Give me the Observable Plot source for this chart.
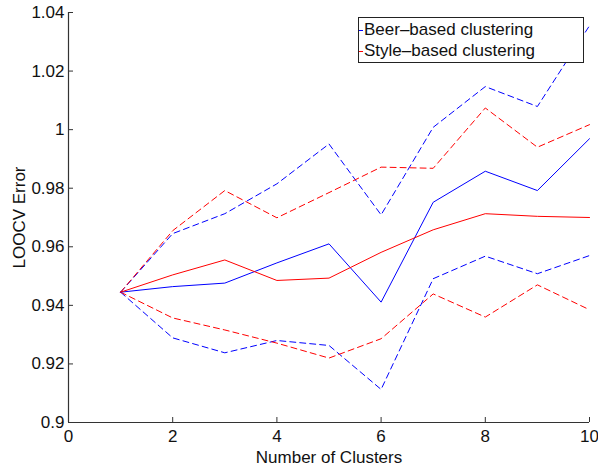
<!DOCTYPE html>
<html>
<head>
<meta charset="utf-8">
<script src="https://cdn.jsdelivr.net/npm/d3@7"></script>
<script src="https://cdn.jsdelivr.net/npm/@observablehq/plot@0.6"></script>
<style>
  html, body { margin: 0; padding: 0; background: #fff; }
  #wrap { position: relative; width: 598px; height: 466px; font-family: "Liberation Sans", Arial, sans-serif; }
  #legend { position: absolute; left: 358px; top: 17px; width: 224px; height: 44px; border: 1px solid #222; background: #fff; font-size: 17px; color: #111; }
  #legend .row { position: absolute; left: 0; white-space: nowrap; line-height: 20px; }
  #legend .sw { display: inline-block; width: 4px; height: 1px; vertical-align: middle; margin-right: 1px; }
</style>
</head>
<body>
<div id="wrap"></div>
<script>
const clusters = [1, 2, 3, 4, 5, 6, 7, 8, 9, 10];
const beerMean  = [0.9445, 0.9464, 0.9476, 0.9545, 0.9610, 0.9411, 0.9752, 0.9858, 0.9792, 0.9969];
const beerUpper = [0.9445, 0.9645, 0.9713, 0.9815, 0.9951, 0.9709, 1.0008, 1.0147, 1.0079, 1.0355];
const beerLower = [0.9445, 0.9289, 0.9238, 0.9280, 0.9263, 0.9113, 0.9491, 0.9568, 0.9508, 0.9570];
const styleMean  = [0.9445, 0.9504, 0.9555, 0.9485, 0.9493, 0.9581, 0.9658, 0.9713, 0.9704, 0.9700];
const styleUpper = [0.9445, 0.9655, 0.9792, 0.9699, 0.9785, 0.9872, 0.9868, 1.0074, 0.9940, 1.0017];
const styleLower = [0.9445, 0.9357, 0.9316, 0.9271, 0.9220, 0.9286, 0.9439, 0.9360, 0.9470, 0.9385];
const xTicks = [0, 2, 4, 6, 8, 10];
const yTicks = [0.9, 0.92, 0.94, 0.96, 0.98, 1, 1.02, 1.04];
const seriesNames = ["Beer\u2013based clustering", "Style\u2013based clustering"];
const seriesColors = ["#0000ff", "#ff0000"];

const toRows = (vals) => clusters.map((c, i) => ({x: c, y: vals[i]}));
const fmtY = d => String(+d.toFixed(2));
const W = 598, H = 466, ML = 68, MR = 9, MT = 12, MB = 44;
const tickLen = 5;

const lineOpts = (color, dashed) => ({x: "x", y: "y", stroke: color, strokeWidth: 1, strokeDasharray: dashed ? "6,4" : null});

const chart = Plot.plot({
  width: W, height: H,
  marginLeft: ML, marginRight: MR, marginTop: MT, marginBottom: MB,
  style: {fontFamily: "Liberation Sans, Arial, sans-serif", fontSize: "17px", color: "#111", background: "white"},
  x: {domain: [0, 10]},
  y: {domain: [0.9, 1.04]},
  marks: [
    Plot.axisX(xTicks, {tickSize: 0, tickPadding: 7, tickFormat: d => String(d), label: "Number of Clusters", labelAnchor: "center", labelOffset: 40, labelArrow: "none"}),
    Plot.axisY(yTicks, {tickSize: 0, tickPadding: 4, tickFormat: fmtY, label: "LOOCV Error", labelAnchor: "center", labelOffset: 56, labelArrow: "none"}),
    Plot.tickX(xTicks, {x: d => d, stroke: "#333", insetTop: (H - MT - MB) - tickLen}),
    Plot.tickY(yTicks, {y: d => d, stroke: "#333", insetRight: (W - ML - MR) - tickLen}),
    Plot.ruleX([0], {stroke: "#333", strokeWidth: 1.2}),
    Plot.ruleY([0.9], {stroke: "#333", strokeWidth: 1.2}),
    Plot.line(toRows(beerUpper), lineOpts(seriesColors[0], true)),
    Plot.line(toRows(beerLower), lineOpts(seriesColors[0], true)),
    Plot.line(toRows(styleUpper), lineOpts(seriesColors[1], true)),
    Plot.line(toRows(styleLower), lineOpts(seriesColors[1], true)),
    Plot.line(toRows(beerMean), lineOpts(seriesColors[0], false)),
    Plot.line(toRows(styleMean), lineOpts(seriesColors[1], false))
  ]
});

const wrap = document.getElementById("wrap");
wrap.appendChild(chart);
const legend = document.createElement("div");
legend.id = "legend";
seriesNames.forEach((name, i) => {
  const row = document.createElement("div");
  row.className = "row";
  row.style.top = (2 + i * 21) + "px";
  const sw = document.createElement("span");
  sw.className = "sw";
  sw.style.background = seriesColors[i];
  row.appendChild(sw);
  row.appendChild(document.createTextNode(name));
  legend.appendChild(row);
});
wrap.appendChild(legend);
</script>
</body>
</html>
